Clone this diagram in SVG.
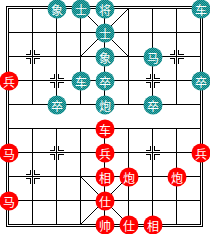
<svg xmlns="http://www.w3.org/2000/svg" width="210" height="234" viewBox="0 0 210 234">
<defs>
<pattern id="dither" patternUnits="userSpaceOnUse" width="2" height="2">
<rect width="2" height="2" fill="#008080"/>
<rect width="1" height="1" fill="#40a8a8"/>
<rect x="1" y="1" width="1" height="1" fill="#40a8a8"/>
</pattern>
<path id="mk" d="M-2,-7V-2H-7M2,-7V-2H7M-2,7V2H-7M2,7V2H7"/>
<path id="mkL" d="M2,-7V-2H7M2,7V2H7"/>
<path id="mkR" d="M-2,-7V-2H-7M-2,7V2H-7"/>
</defs>
<style>
.ln{stroke:#000;stroke-width:1;fill:none;shape-rendering:crispEdges}
.mk{stroke:#000;stroke-width:1;fill:none;shape-rendering:crispEdges}
.blk circle{fill:url(#dither)}
.red circle{fill:#ff0000}
text{fill:#fff;font-family:"Noto Sans CJK SC","Noto Sans CJK JP",sans-serif;font-size:12px;text-anchor:middle;dominant-baseline:central}
</style>
<rect width="210" height="234" fill="#fff"/>
<g id="board" class="ln">
<rect x="6.5" y="6.5" width="196" height="220"/>
<rect x="8.5" y="8.5" width="192" height="216"/>
<path d="M8.5,32.5H200.5M8.5,56.5H200.5M8.5,80.5H200.5M8.5,104.5H200.5M8.5,128.5H200.5M8.5,152.5H200.5M8.5,176.5H200.5M8.5,200.5H200.5"/>
<path d="M32.5,8.5V104.5M56.5,8.5V104.5M80.5,8.5V104.5M104.5,8.5V104.5M128.5,8.5V104.5M152.5,8.5V104.5M176.5,8.5V104.5"/>
<path d="M32.5,128.5V224.5M56.5,128.5V224.5M80.5,128.5V224.5M104.5,128.5V224.5M128.5,128.5V224.5M152.5,128.5V224.5M176.5,128.5V224.5"/>
<path d="M80.5,8.5L128.5,56.5M128.5,8.5L80.5,56.5M80.5,176.5L128.5,224.5M128.5,176.5L80.5,224.5"/>
</g>
<g id="markers" class="mk">
<use href="#mk" x="32.5" y="56.5"/>
<use href="#mk" x="176.5" y="56.5"/>
<use href="#mk" x="32.5" y="176.5"/>
<use href="#mk" x="176.5" y="176.5"/>
<use href="#mkL" x="8.5" y="80.5"/>
<use href="#mk" x="56.5" y="80.5"/>
<use href="#mk" x="104.5" y="80.5"/>
<use href="#mk" x="152.5" y="80.5"/>
<use href="#mkR" x="200.5" y="80.5"/>
<use href="#mkL" x="8.5" y="152.5"/>
<use href="#mk" x="56.5" y="152.5"/>
<use href="#mk" x="104.5" y="152.5"/>
<use href="#mk" x="152.5" y="152.5"/>
<use href="#mkR" x="200.5" y="152.5"/>
</g>
<g id="connectors"/>
<g class="blk">
<g id="b-xiang1"><circle cx="57" cy="9" r="9.5"/><text x="57" y="9">象</text></g>
<g id="b-shi1"><circle cx="81" cy="9" r="9.5"/><text x="81" y="9">士</text></g>
<g id="b-jiang"><circle cx="105" cy="9" r="9.5"/><text x="105" y="9">将</text></g>
<g id="b-che1"><circle cx="201" cy="9" r="9.5"/><text x="201" y="9">车</text></g>
<g id="b-shi2"><circle cx="105" cy="33" r="9.5"/><text x="105" y="33">士</text></g>
<g id="b-xiang2"><circle cx="105" cy="57" r="9.5"/><text x="105" y="57">象</text></g>
<g id="b-ma"><circle cx="153" cy="57" r="9.5"/><text x="153" y="57">马</text></g>
<g id="b-che2"><circle cx="81" cy="81" r="9.5"/><text x="81" y="81">车</text></g>
<g id="b-zu1"><circle cx="105" cy="81" r="9.5"/><text x="105" y="81">卒</text></g>
<g id="b-zu2"><circle cx="201" cy="81" r="9.5"/><text x="201" y="81">卒</text></g>
<g id="b-zu3"><circle cx="57" cy="105" r="9.5"/><text x="57" y="105">卒</text></g>
<g id="b-pao"><circle cx="105" cy="105" r="9.5"/><text x="105" y="105">炮</text></g>
<g id="b-zu4"><circle cx="153" cy="105" r="9.5"/><text x="153" y="105">卒</text></g>
</g>
<g class="red">
<g id="r-bing1"><circle cx="9" cy="81" r="9.5"/><text x="9" y="81">兵</text></g>
<g id="r-che"><circle cx="105" cy="129" r="9.5"/><text x="105" y="129">车</text></g>
<g id="r-ma1"><circle cx="9" cy="153" r="9.5"/><text x="9" y="153">马</text></g>
<g id="r-bing2"><circle cx="105" cy="153" r="9.5"/><text x="105" y="153">兵</text></g>
<g id="r-bing3"><circle cx="201" cy="153" r="9.5"/><text x="201" y="153">兵</text></g>
<g id="r-xiang1"><circle cx="105" cy="177" r="9.5"/><text x="105" y="177">相</text></g>
<g id="r-pao1"><circle cx="129" cy="177" r="9.5"/><text x="129" y="177">炮</text></g>
<g id="r-pao2"><circle cx="177" cy="177" r="9.5"/><text x="177" y="177">炮</text></g>
<g id="r-ma2"><circle cx="9" cy="201" r="9.5"/><text x="9" y="201">马</text></g>
<g id="r-shi1"><circle cx="105" cy="201" r="9.5"/><text x="105" y="201">仕</text></g>
<g id="r-shuai"><circle cx="105" cy="225" r="9.5"/><text x="105" y="225">帅</text></g>
<g id="r-shi2"><circle cx="129" cy="225" r="9.5"/><text x="129" y="225">仕</text></g>
<g id="r-xiang2"><circle cx="153" cy="225" r="9.5"/><text x="153" y="225">相</text></g>
</g>
</svg>
